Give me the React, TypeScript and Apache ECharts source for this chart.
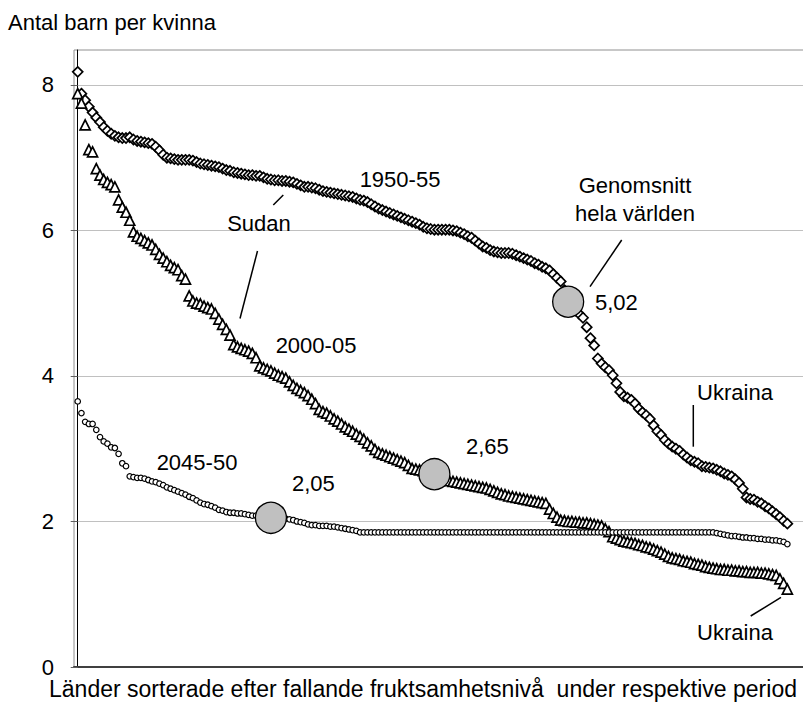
import React, { useEffect, useRef } from "react";
import * as echarts from "echarts";

// Countries sorted by falling fertility (index 0..191), births per woman
const fert1950: number[] = [
  8.18, 7.88, 7.79, 7.70, 7.62, 7.55, 7.49, 7.42, 7.37, 7.33,
  7.30, 7.28, 7.27, 7.27, 7.28, 7.25, 7.23, 7.22, 7.21, 7.20,
  7.19, 7.15, 7.10, 7.04, 7.00, 6.99, 6.98, 6.97, 6.97, 6.97,
  6.97, 6.96, 6.94, 6.92, 6.91, 6.90, 6.89, 6.88, 6.87, 6.85,
  6.83, 6.82, 6.80, 6.79, 6.78, 6.77, 6.76, 6.76, 6.75, 6.75,
  6.73, 6.71, 6.70, 6.69, 6.69, 6.68, 6.68, 6.67, 6.66, 6.64,
  6.62, 6.60, 6.60, 6.59, 6.58, 6.56, 6.54, 6.53, 6.52, 6.51,
  6.50, 6.49, 6.48, 6.47, 6.46, 6.44, 6.42, 6.41, 6.39, 6.36,
  6.33, 6.30, 6.28, 6.26, 6.24, 6.22, 6.20, 6.18, 6.16, 6.14,
  6.12, 6.10, 6.08, 6.05, 6.03, 6.02, 6.01, 6.01, 6.01, 6.01,
  6.01, 6.00, 5.99, 5.97, 5.95, 5.92, 5.90, 5.86, 5.82, 5.78,
  5.76, 5.73, 5.71, 5.70, 5.69, 5.69, 5.69, 5.68, 5.66, 5.64,
  5.62, 5.60, 5.58, 5.55, 5.53, 5.50, 5.48, 5.45, 5.40, 5.35,
  5.30, 5.18, 5.04, 4.95, 4.90, 4.85, 4.80, 4.67, 4.52, 4.42,
  4.24, 4.17, 4.12, 4.08, 4.01, 3.90, 3.78, 3.72, 3.70, 3.67,
  3.62, 3.55, 3.50, 3.46, 3.41, 3.32, 3.24, 3.19, 3.12, 3.07,
  3.03, 3.00, 2.97, 2.92, 2.88, 2.84, 2.82, 2.80, 2.76, 2.75,
  2.74, 2.73, 2.71, 2.69, 2.66, 2.64, 2.62, 2.58, 2.53, 2.45,
  2.33, 2.31, 2.30, 2.27, 2.25, 2.21, 2.18, 2.14, 2.10, 2.06,
  2.01, 1.97,
];

const fert2000: number[] = [
  7.88, 7.75, 7.45, 7.11, 7.08, 6.85, 6.76, 6.70, 6.66, 6.63,
  6.60, 6.42, 6.32, 6.25, 6.14, 5.98, 5.92, 5.89, 5.86, 5.83,
  5.80, 5.74, 5.67, 5.62, 5.57, 5.52, 5.49, 5.46, 5.38, 5.33,
  5.10, 5.03, 5.00, 4.99, 4.96, 4.94, 4.92, 4.86, 4.78, 4.71,
  4.64, 4.56, 4.43, 4.40, 4.38, 4.36, 4.34, 4.31, 4.25, 4.14,
  4.11, 4.09, 4.07, 4.04, 4.01, 3.99, 3.97, 3.92, 3.87, 3.83,
  3.80, 3.77, 3.73, 3.68, 3.62, 3.54, 3.51, 3.49, 3.45, 3.41,
  3.38, 3.34, 3.30, 3.27, 3.24, 3.20, 3.17, 3.13, 3.08, 3.04,
  2.99, 2.95, 2.93, 2.91, 2.89, 2.87, 2.85, 2.83, 2.81, 2.77,
  2.73, 2.72, 2.71, 2.70, 2.69, 2.67, 2.65, 2.62, 2.59, 2.57,
  2.56, 2.55, 2.54, 2.53, 2.52, 2.51, 2.50, 2.49, 2.48, 2.47,
  2.46, 2.44, 2.42, 2.40, 2.38, 2.37, 2.35, 2.34, 2.33, 2.32,
  2.31, 2.30, 2.29, 2.28, 2.27, 2.26, 2.25, 2.17, 2.11, 2.06,
  2.02, 2.01, 2.00, 2.00, 1.99, 1.99, 1.98, 1.98, 1.97, 1.96,
  1.95, 1.94, 1.90, 1.86, 1.79, 1.77, 1.75, 1.73, 1.72, 1.71,
  1.70, 1.68, 1.67, 1.65, 1.64, 1.62, 1.60, 1.58, 1.55, 1.52,
  1.50, 1.49, 1.48, 1.46, 1.45, 1.44, 1.42, 1.41, 1.40, 1.38,
  1.37, 1.36, 1.35, 1.34, 1.34, 1.33, 1.33, 1.32, 1.32, 1.31,
  1.31, 1.30, 1.30, 1.30, 1.29, 1.29, 1.28, 1.27, 1.26, 1.21,
  1.15, 1.07,
];

const fert2045: number[] = [
  3.65, 3.49, 3.37, 3.34, 3.34, 3.26, 3.16, 3.10, 3.07, 3.02,
  3.01, 2.93, 2.80, 2.76, 2.62, 2.61, 2.60, 2.60, 2.59, 2.57,
  2.55, 2.54, 2.52, 2.50, 2.47, 2.45, 2.43, 2.41, 2.39, 2.37,
  2.34, 2.32, 2.29, 2.26, 2.24, 2.23, 2.21, 2.19, 2.16, 2.15,
  2.13, 2.12, 2.12, 2.11, 2.11, 2.10, 2.09, 2.08, 2.08, 2.07,
  2.06, 2.06, 2.05, 2.05, 2.05, 2.04, 2.04, 2.03, 2.02, 2.00,
  1.99, 1.98, 1.96, 1.95, 1.95, 1.94, 1.94, 1.94, 1.93, 1.93,
  1.92, 1.91, 1.90, 1.89, 1.88, 1.87, 1.85, 1.85, 1.85, 1.85,
  1.85, 1.85, 1.85, 1.85, 1.85, 1.85, 1.85, 1.85, 1.85, 1.85,
  1.85, 1.85, 1.85, 1.85, 1.85, 1.85, 1.85, 1.85, 1.85, 1.85,
  1.85, 1.85, 1.85, 1.85, 1.85, 1.85, 1.85, 1.85, 1.85, 1.85,
  1.85, 1.85, 1.85, 1.85, 1.85, 1.85, 1.85, 1.85, 1.85, 1.85,
  1.85, 1.85, 1.85, 1.85, 1.85, 1.85, 1.85, 1.85, 1.85, 1.85,
  1.85, 1.85, 1.85, 1.85, 1.85, 1.85, 1.85, 1.85, 1.85, 1.85,
  1.85, 1.85, 1.85, 1.85, 1.85, 1.85, 1.85, 1.85, 1.85, 1.85,
  1.85, 1.85, 1.85, 1.85, 1.85, 1.85, 1.85, 1.85, 1.85, 1.85,
  1.85, 1.85, 1.85, 1.85, 1.85, 1.85, 1.85, 1.85, 1.85, 1.85,
  1.85, 1.85, 1.84, 1.83, 1.82, 1.81, 1.80, 1.80, 1.79, 1.78,
  1.78, 1.77, 1.77, 1.76, 1.76, 1.75, 1.75, 1.74, 1.74, 1.73,
  1.72, 1.69,
];

// World averages: position (country rank) and value
const avgRank: number[] = [132, 96, 52];
const avgValue: number[] = [5.02, 2.65, 2.05];

const yTicks: number[] = [0, 2, 4, 6, 8];

const FONT = "'Liberation Sans', Arial, sans-serif";

export default function App() {
  const ref = useRef<HTMLDivElement>(null);

  useEffect(() => {
    if (!ref.current) return;
    const chart = echarts.init(ref.current, undefined, { renderer: "svg" });

    const toPairs = (arr: number[]) => arr.map((v, i) => [i, v]);
    const markerStyle = { color: "#ffffff", borderColor: "#000000", borderWidth: 1.7, opacity: 1 };

    const txt = (text: string, x: number, y: number, align: string = "center", extra: any = {}) => ({
      type: "text",
      x,
      y,
      style: {
        text,
        fontFamily: FONT,
        fontSize: 22,
        fill: "#000",
        align,
        verticalAlign: "middle",
        ...extra,
      },
      z: 100,
    });
    const ln = (x1: number, y1: number, x2: number, y2: number) => ({
      type: "line",
      shape: { x1, y1, x2, y2 },
      style: { stroke: "#000", lineWidth: 1.5 },
      z: 100,
    });

    chart.setOption({
      animation: false,
      backgroundColor: "#ffffff",
      grid: {
        left: 74,
        top: 50,
        bottom: 44,
        right: -10,
        outerBoundsMode: "none",
        containLabel: false,
        show: true,
        borderColor: "#909090",
        borderWidth: 1,
        backgroundColor: "transparent",
      },
      xAxis: {
        type: "value",
        min: -1,
        max: 197.9,
        axisLine: { show: true, lineStyle: { color: "#404040", width: 2 } },
        axisTick: { show: false },
        axisLabel: { show: false },
        splitLine: { show: false },
      },
      yAxis: {
        type: "value",
        min: 0,
        max: 8.48,
        interval: 2,
        axisLine: { show: true, lineStyle: { color: "#000", width: 1 } },
        axisTick: {
          show: true,
          length: 7,
          customValues: yTicks,
          lineStyle: { color: "#606060" },
        },
        axisLabel: {
          show: true,
          customValues: yTicks,
          margin: 20,
          fontSize: 22,
          fontFamily: FONT,
          color: "#000",
          formatter: (v: number) => (v % 2 === 0 ? String(v) : ""),
        },
        splitLine: { show: true, lineStyle: { color: "#c0c0c0", width: 1 } },
      },
      series: [
        {
          name: "1950-55",
          type: "scatter",
          symbol: "diamond",
          symbolSize: 10,
          itemStyle: markerStyle,
          data: toPairs(fert1950),
          z: 2,
        },
        {
          name: "2000-05",
          type: "scatter",
          symbol: "triangle",
          symbolSize: 10,
          itemStyle: markerStyle,
          data: toPairs(fert2000),
          z: 3,
        },
        {
          name: "2045-50",
          type: "scatter",
          symbol: "circle",
          symbolSize: 5.5,
          itemStyle: { color: "#ffffff", borderColor: "#000000", borderWidth: 1.2, opacity: 1 },
          data: toPairs(fert2045),
          z: 4,
        },
        {
          name: "Genomsnitt",
          type: "scatter",
          symbol: "circle",
          symbolSize: 31,
          itemStyle: { color: "#c0c0c0", borderColor: "#000000", borderWidth: 1.3, opacity: 1 },
          z: 5,
          data: avgRank.map((r, i) => [r, avgValue[i]]),
        },
      ],
      graphic: [
        txt("Antal barn per kvinna", 8, 22, "left"),
        txt("1950-55", 400, 179),
        txt("Sudan", 259, 223),
        txt("2000-05", 316, 345),
        txt("2045-50", 197, 462),
        txt("Genomsnitt\nhela världen", 635, 199, "center", { lineHeight: 28 }),
        txt("5,02", 595, 302, "left"),
        txt("2,65", 466, 446, "left"),
        txt("2,05", 292, 483, "left"),
        txt("Ukraina", 735, 392),
        txt("Ukraina", 735, 632),
        txt("Länder sorterade efter fallande fruktsamhetsnivå  under respektive period", 423, 689, "center", { fontSize: 23 }),
        ln(621.7, 240, 590, 286.7),
        ln(257.5, 251, 240, 318.5),
        ln(273.3, 205, 283.3, 195),
        ln(693.3, 405, 693.3, 446.7),
        ln(781, 597.3, 750.7, 616),
      ],
    });

    return () => chart.dispose();
  }, []);

  return (
    <div
      ref={ref}
      style={{ position: "absolute", left: 0, top: 0, width: 803, height: 711 }}
    />
  );
}
